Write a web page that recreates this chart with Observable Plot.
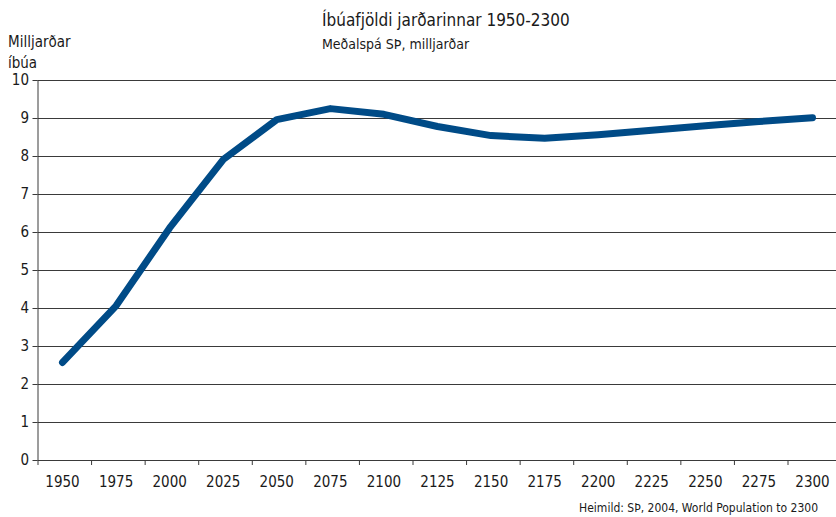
<!DOCTYPE html>
<html><head><meta charset="utf-8">
<script src="https://cdn.jsdelivr.net/npm/d3@7"></script>
<script src="https://cdn.jsdelivr.net/npm/@observablehq/plot@0.6"></script>
<style>
body{margin:0;background:#fff;}
#wrap{position:relative;width:836px;height:517px;font-family:"DejaVu Sans Condensed","Liberation Sans Narrow",sans-serif;color:#1a1a1a;}
.t{position:absolute;white-space:nowrap;line-height:1;}
#chart{position:absolute;left:0;top:0;}
</style></head><body>
<div id="wrap">
<div id="chart"></div>
<div class="t" style="left:322px;top:12px;font-size:17px;">Íbúafjöldi jarðarinnar 1950-2300</div>
<div class="t" style="left:322px;top:37px;font-size:14px;">Meðalspá SÞ, milljarðar</div>
<div class="t" style="left:8px;top:32px;font-size:15px;line-height:21px;">Milljarðar<br>íbúa</div>
<div class="t" style="right:18px;top:502px;font-size:12px;">Heimild: SÞ, 2004, World Population to 2300</div>
</div>
<script>
const years = ["1950","1975","2000","2025","2050","2075","2100","2125","2150","2175","2200","2225","2250","2275","2300"];
const population = [2.58, 4.07, 6.12, 7.92, 8.97, 9.26, 9.11, 8.79, 8.55, 8.48, 8.57, 8.69, 8.81, 8.92, 9.02];
const yTicks = [0,1,2,3,4,5,6,7,8,9,10];

const data = years.map((y,i)=>({year:y, value:population[i]}));
const first = 62, last = 812;
const step = (last-first)/(years.length-1);

const chart = Plot.plot({
  width: 836, height: 517,
  marginTop: 80, marginBottom: 57, marginLeft: 37.5, marginRight: 0,
  style: {fontFamily: '"DejaVu Sans Condensed","Liberation Sans Narrow",sans-serif', fontSize: "15px", color: "#1a1a1a", background: "transparent", overflow: "visible"},
  x: {type: "point", domain: years, range: [first, last], padding: 0, round: false},
  y: {domain: [0, 10]},
  marks: [
    Plot.gridY(yTicks, {stroke: "#3a3a3a", strokeOpacity: 1, strokeWidth: 1}),
    Plot.ruleX([years[0]], {dx: -24.5, stroke: "#3a3a3a", strokeWidth: 1}),
    Plot.axisY(yTicks, {tickSize: 5, tickPadding: 4, fontSize: 15, label: null, stroke: "#3a3a3a"}),
    Plot.axisX({tickSize: 0, tickPadding: 16, fontSize: 15, label: null}),
    Plot.axisX({tickSize: 5, tickFormat: () => "", dx: -24.5, label: null, stroke: "#3a3a3a"}),
    Plot.line(data, {x: "year", y: "value", stroke: "#004b87", strokeWidth: 7, strokeLinecap: "round", strokeLinejoin: "round"})
  ]
});
document.getElementById("chart").appendChild(chart);
</script>
</body></html>
